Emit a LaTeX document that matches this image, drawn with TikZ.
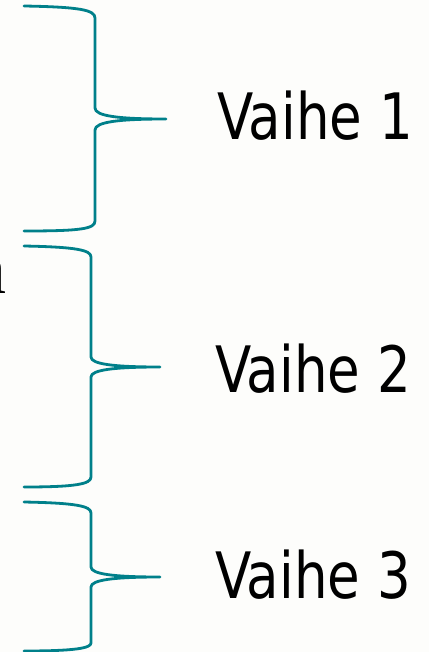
\documentclass[tikz,border=0pt]{standalone}
\usepackage{fontspec}
\newfontfamily\labelfont{DejaVu Sans Condensed}
\newfontfamily\wordfont{Liberation Serif}
\definecolor{braceteal}{RGB}{0,128,138}
\definecolor{paper}{RGB}{253,253,251}
\begin{document}
\begin{tikzpicture}[x=1pt,y=-1pt,
  bracepath/.style={draw=braceteal,line width=2.8pt,line cap=round,line join=round},
  phase/.style={anchor=base west,inner sep=0pt,font=\labelfont\fontsize{64}{64}\selectfont}]
\useasboundingbox (0,0) rectangle (429,652);
\clip (0,0) rectangle (429,652);
\fill[paper] (0,0) rectangle (429,652);

% cut-off word ending at the left margin
\node[anchor=base east,inner sep=0pt,font=\wordfont\fontsize{72}{72}\selectfont] (word) at (6.8,293) {a};

% brace 1
\coordinate (t1) at (166,119);
\draw[bracepath] (24,6) .. controls (80,7) and (95,10) .. (95,18) -- (95,108)
  .. controls (95,116) and (118,119) .. (t1)
  .. controls (118,119) and (95,122) .. (95,130) -- (95,221)
  .. controls (95,229) and (80,231) .. (24,231);
% brace 2
\coordinate (t2) at (160,367);
\draw[bracepath] (24,246) .. controls (76,247) and (91,250) .. (91,257) -- (91,357)
  .. controls (91,364) and (113,367) .. (t2)
  .. controls (113,367) and (91,370) .. (91,377) -- (91,477)
  .. controls (91,484) and (76,487) .. (24,487);
% brace 3
\coordinate (t3) at (160,577);
\draw[bracepath] (24,502) .. controls (76,503) and (91,506) .. (91,513) -- (91,567)
  .. controls (91,574) and (113,577) .. (t3)
  .. controls (113,577) and (91,580) .. (91,587) -- (91,643)
  .. controls (91,648) and (76,651) .. (24,651);

\node[phase] (v1) at (217,140) {\scalebox{0.92}[1]{Vaihe 1}};
\node[phase] (v2) at (215,392) {\scalebox{0.92}[1]{Vaihe 2}};
\node[phase] (v3) at (215,598) {\scalebox{0.92}[1]{Vaihe 3}};
\end{tikzpicture}
\end{document}
